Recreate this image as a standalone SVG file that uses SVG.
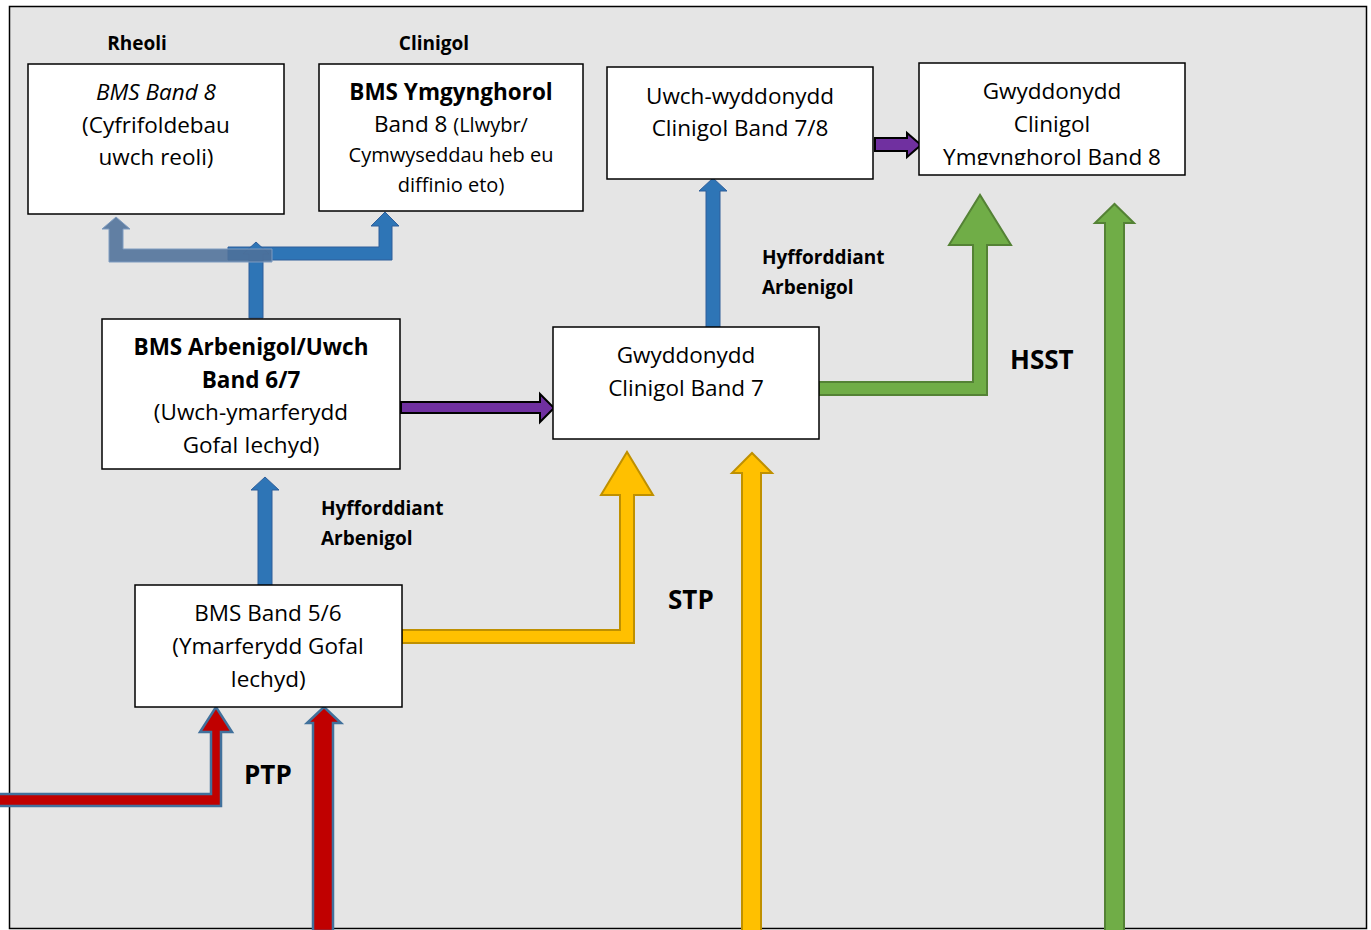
<svg xmlns="http://www.w3.org/2000/svg" width="1371" height="930" viewBox="0 0 1371 930">
<style>
text{font-family:"Open Sans","Liberation Sans",sans-serif;fill:#000;text-anchor:middle}
.t{font-size:22.5px}
.b{font-weight:bold}
.s{font-size:20px}
.lbl{font-size:19px;font-weight:bold;text-anchor:start}
.lblc{font-size:19px;font-weight:bold}
.big{font-size:26px;font-weight:bold;text-anchor:start}
.box{fill:#fff;stroke:#000;stroke-width:1.5}
.blue{fill:#2e75b6;stroke:#2f5f9a;stroke-width:1}
.purple{fill:#7030a0;stroke:#000;stroke-width:2}
.yellow{fill:#ffc000;stroke:#bf9000;stroke-width:2}
.green{fill:#70ad47;stroke:#548235;stroke-width:2}
.red{fill:#c00000;stroke:#41719c;stroke-width:2.5}
</style>
<defs>
<clipPath id="c4"><rect x="919" y="63" width="267" height="102"/></clipPath>
</defs>
<rect x="9.5" y="6.5" width="1357" height="922" fill="#e5e5e5" stroke="#000" stroke-width="1.5"/>
<g id="connectors">
<polygon class="blue" points="228,247 379,247 379,226 371,226 385,212 399,226 392,226 392,260 228,260"/>
<polygon class="blue" points="249,318 249,254 243,254 256,242 269,254 263,254 263,318"/>
<polygon points="272,249 123,249 123,229 130,229 116,217 102,229 109,229 109,262 272,262" fill="#4f719a" fill-opacity="0.88" stroke="#7f9cc0" stroke-width="1"/>
<polygon class="blue" points="258,587 258,490 251,490 265,477 279,490 272,490 272,587"/>
<polygon class="blue" points="706,328 706,191 699,191 713,178 727,191 720,191 720,328"/>
<polygon class="purple" points="401,402 540,402 540,394 554,408 540,422 540,413 401,413"/>
<polygon class="purple" points="875,138 907,138 907,133 921,145 907,157 907,151 875,151"/>
<polygon class="yellow" points="402,630 620,630 620,495 601,495 627,452 653,495 634,495 634,643 402,643"/>
<polygon class="yellow" points="742,931 742,473 732,473 752,453 772,473 761,473 761,931"/>
<polygon class="green" points="819,382 973,382 973,245 949,245 980,195 1011,245 987,245 987,395 819,395"/>
<polygon class="green" points="1105,931 1105,223 1095,223 1114.5,204 1134,223 1124,223 1124,931"/>
<polygon class="red" points="-3,794 211,794 211,732 200,732 216,707 232,732 221,732 221,806 -3,806"/>
<polygon class="red" points="313,931 313,723 307,723 324,707 341,723 333,723 333,931"/>
</g>
<g id="labels">
<text class="lblc" x="137" y="50">Rheoli</text>
<text class="lblc" x="434" y="50">Clinigol</text>
<text class="lbl" x="321" y="515">Hyfforddiant</text>
<text class="lbl" x="321" y="545">Arbenigol</text>
<text class="lbl" x="762" y="264">Hyfforddiant</text>
<text class="lbl" x="762" y="294">Arbenigol</text>
<text class="big" x="668" y="609">STP</text>
<text class="big" x="244" y="784">PTP</text>
<text class="big" x="1010" y="369">HSST</text>
</g>
<g id="n1">
<rect class="box" x="28" y="64" width="256" height="150"/>
<text class="t" x="156" y="100" font-style="italic">BMS Band 8</text>
<text class="t" x="156" y="133">(Cyfrifoldebau</text>
<text class="t" x="156" y="165">uwch reoli)</text>
</g>
<g id="n2">
<rect class="box" x="319" y="64" width="264" height="147"/>
<text class="t b" x="451" y="100">BMS Ymgynghorol</text>
<text class="t" x="451" y="132">Band 8 <tspan class="s">(Llwybr/</tspan></text>
<text class="s" x="451" y="162">Cymwyseddau heb eu</text>
<text class="s" x="451" y="192">diffinio eto)</text>
</g>
<g id="n3">
<rect class="box" x="607" y="67" width="266" height="112"/>
<text class="t" x="740" y="104">Uwch-wyddonydd</text>
<text class="t" x="740" y="136">Clinigol Band 7/8</text>
</g>
<g id="n4">
<rect class="box" x="919" y="63" width="266" height="112"/>
<g clip-path="url(#c4)">
<text class="t" x="1052" y="99">Gwyddonydd</text>
<text class="t" x="1052" y="132">Clinigol</text>
<text class="t" x="1052" y="165">Ymgynghorol Band 8</text>
</g>
</g>
<g id="n5">
<rect class="box" x="102" y="319" width="298" height="150"/>
<text class="t b" x="251" y="355">BMS Arbenigol/Uwch</text>
<text class="t b" x="251" y="388">Band 6/7</text>
<text class="t" x="251" y="420">(Uwch-ymarferydd</text>
<text class="t" x="251" y="453">Gofal Iechyd)</text>
</g>
<g id="n6">
<rect class="box" x="553" y="327" width="266" height="112"/>
<text class="t" x="686" y="363">Gwyddonydd</text>
<text class="t" x="686" y="396">Clinigol Band 7</text>
</g>
<g id="n7">
<rect class="box" x="135" y="585" width="267" height="122"/>
<text class="t" x="268" y="621">BMS Band 5/6</text>
<text class="t" x="268" y="654">(Ymarferydd Gofal</text>
<text class="t" x="268" y="687">Iechyd)</text>
</g>
</svg>
